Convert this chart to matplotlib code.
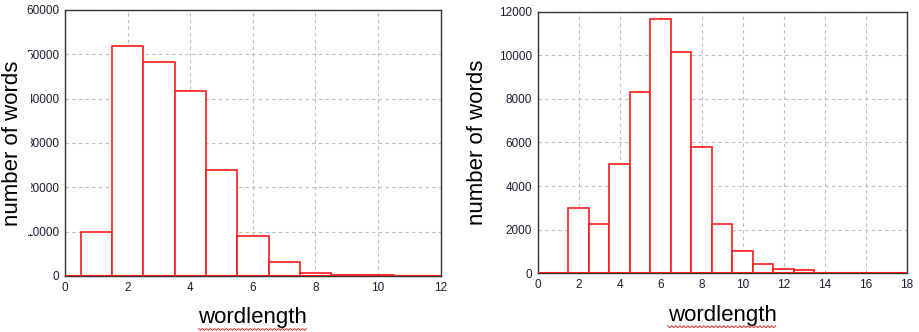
import matplotlib
matplotlib.use("Agg")
import matplotlib.pyplot as plt
from matplotlib.lines import Line2D
import numpy as np

# word-length histograms (counts per length)
lengths_a = [1, 2, 3, 4, 5, 6, 7, 8, 9, 10]
counts_a = [9850, 51900, 48300, 41650, 24000, 9100, 3200, 750, 150, 150]

lengths_b = [2, 3, 4, 5, 6, 7, 8, 9, 10, 11, 12, 13]
counts_b = [3000, 2260, 5010, 8300, 11650, 10150, 5800, 2260, 1030, 440, 180, 140]

xticks_a = [0, 2, 4, 6, 8, 10, 12]
yticks_a = [0, 10000, 20000, 30000, 40000, 50000, 60000]
xticks_b = [0, 2, 4, 6, 8, 10, 12, 14, 16, 18]
yticks_b = [0, 2000, 4000, 6000, 8000, 10000, 12000]

plt.rcParams['font.family'] = ['Liberation Sans', 'DejaVu Sans']

fig = plt.figure(figsize=(9.2, 3.32), dpi=100)
ax1 = fig.add_axes([0.0707, 0.1687, 0.4083, 0.8013])
ax2 = fig.add_axes([0.5845, 0.1768, 0.4010, 0.7880])

RED = '#ff1a1a'


def draw(ax, lengths, counts, xticks, yticks, cover_label):
    ax.bar(lengths, counts, width=1.0, align='center', facecolor='white',
           edgecolor=RED, linewidth=1.2, zorder=3)
    ax.axhline(0, color=RED, linewidth=1.5, zorder=4)
    ax.set_xlim(xticks[0], xticks[-1])
    ax.set_ylim(yticks[0], yticks[-1])
    ax.set_xticks(xticks)
    ax.set_yticks(yticks)
    ax.grid(True, color='#bbbbbb', linestyle=(0, (3, 3)), linewidth=0.8, zorder=0)
    ax.set_axisbelow(True)
    for s in ax.spines.values():
        s.set_color('#333333')
        s.set_linewidth(1.0)
    ax.tick_params(length=0, labelsize=8.5, labelcolor='#1c1c30', pad=4)
    ax.set_xlabel('wordlength', fontsize=16, labelpad=10, color='black')
    bbox = dict(facecolor='white', edgecolor='none', pad=6) if cover_label else None
    ax.set_ylabel('number of words', fontsize=16, color='black', labelpad=2,
                  bbox=bbox)


draw(ax1, lengths_a, counts_a, xticks_a, yticks_a, True)
draw(ax2, lengths_b, counts_b, xticks_b, yticks_b, False)

ax1.yaxis.set_label_coords(-0.112, 0.5)
ax2.yaxis.set_label_coords(-0.135, 0.5)

# spell-check style wavy underline beneath each x-axis label
fig.canvas.draw()
renderer = fig.canvas.get_renderer()
H = fig.bbox.height
for ax in (ax1, ax2):
    bb = ax.xaxis.label.get_window_extent(renderer)
    xs = np.arange(bb.x0, bb.x1 + 0.1, 2.0)
    ys = bb.y0 - 1.0 + np.where(np.arange(len(xs)) % 2 == 0, 1.0, -1.0)
    fig.add_artist(Line2D(xs / fig.bbox.width, ys / H, color='#e03030',
                          linewidth=0.7, transform=fig.transFigure))

fig.savefig('out.png', dpi=100, facecolor='white')
